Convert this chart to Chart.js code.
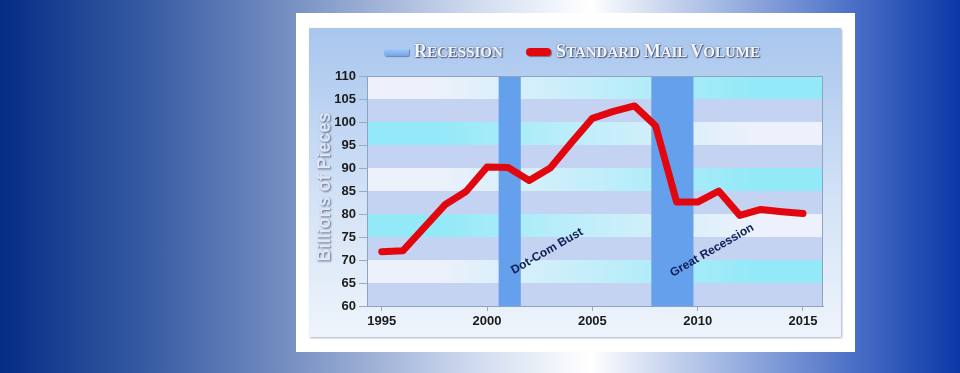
<!DOCTYPE html>
<html lang="en">
<head>
<meta charset="UTF-8">
<title>Standard Mail Volume</title>
<script src="https://cdn.jsdelivr.net/npm/chart.js"></script>
<style>
  html, body { margin: 0; padding: 0; }
  body {
    width: 960px; height: 373px; overflow: hidden; position: relative;
    background: linear-gradient(to right, #042c85 0%, #3a5ea4 16%, #7a92c4 31%, #d2ddf0 50%, #ffffff 61.5%, #a3b8e3 75%, #4a6fc6 89%, #0a38a6 100%);
    font-family: Arial, sans-serif;
  }
  .card { position: absolute; left: 296px; top: 13px; width: 559px; height: 339px; background: #fff; }
  .panel {
    position: absolute; left: 13px; top: 15px; width: 532px; height: 309px;
    background: linear-gradient(#a8c6ee, #d3e2f6 55%, #eef4fb);
    box-shadow: 1px 1px 2px rgba(60, 80, 110, 0.45);
  }
  .panel canvas { position: absolute; left: 0; top: 0; }
  .sw { position: absolute; top: 20px; width: 25px; height: 8px; border-radius: 2px; }
  .sw.rec { left: 75px; background: linear-gradient(#a9cdf7, #6fa6ea); box-shadow: 1px 1px 1px rgba(40,60,100,0.5); }
  .sw.mail { left: 217px; background: #e2070f; border-radius: 4px; box-shadow: 1px 1px 1px rgba(80,20,20,0.5); }
  .lg {
    position: absolute; top: 13px; font-family: "Liberation Serif", "DejaVu Serif", serif; font-weight: bold;
    color: #f3f5fb; text-shadow: 1px 1px 1px #46536e, 0 0 2px #6a7894; white-space: nowrap; line-height: 20px;
  }
  .lg b { font-size: 18px; }
  .lg span { font-size: 15px; }
</style>
</head>
<body>
<div class="card">
  <div class="panel">
    <canvas id="mailChart" width="532" height="309"></canvas>
    <div class="sw rec"></div>
    <div class="lg" style="left:105px"><b>R</b><span>ECESSION</span></div>
    <div class="sw mail"></div>
    <div class="lg" style="left:247px"><b>S</b><span>TANDARD </span><b>M</b><span>AIL </span><b>V</b><span>OLUME</span></div>
  </div>
</div>
<script>
  // fiscal years and volume in billions of pieces
  const years = [1995, 1996, 1997, 1998, 1999, 2000, 2001, 2002, 2003, 2004, 2005,
                 2006, 2007, 2008, 2009, 2010, 2011, 2012, 2013, 2014, 2015];
  const mailVolume = [71.8, 72.0, 77.0, 82.0, 84.9, 90.2, 90.1, 87.3, 90.0, 95.5, 100.8,
                      102.3, 103.5, 99.2, 82.6, 82.6, 85.0, 79.7, 81.0, 80.5, 80.1];

  const xTickYears = [1995, 2000, 2005, 2010, 2015];

  const recessionStart = [2000.55, 2007.8];
  const recessionEnd = [2001.6, 2009.8];

  const noteText = ['Dot-Com Bust', 'Great Recession'];
  const noteX = [2002.85, 2010.68];
  const noteY = [71.9, 72.1];

  const yTitle = 'Billions of Pieces';

  const backdrop = {
    id: 'backdrop',
    beforeDatasetsDraw(chart) {
      const { ctx, chartArea: a, scales: { x, y } } = chart;
      const edges = y.ticks.map(t => t.value);
      ctx.save();
      for (let i = 0; i < edges.length - 1; i++) {
        const top = y.getPixelForValue(edges[i + 1]);
        const bot = y.getPixelForValue(edges[i]);
        let fill = '#c3d3f1';
        if (i % 2 === 1) {
          const g = ctx.createLinearGradient(a.left, 0, a.right, 0);
          const c1 = i % 4 === 1 ? '#edf1fb' : '#93e9f8';
          const c2 = i % 4 === 1 ? '#93e9f8' : '#edf1fb';
          g.addColorStop(0.15, c1);
          g.addColorStop(0.5, '#c2eefa');
          g.addColorStop(0.85, c2);
          fill = g;
        }
        ctx.fillStyle = fill;
        ctx.fillRect(a.left, top, a.right - a.left, bot - top);
      }
      ctx.fillStyle = '#64a0ec';
      recessionStart.forEach((s, i) => {
        const x0 = x.getPixelForValue(s);
        const x1 = x.getPixelForValue(recessionEnd[i]);
        ctx.fillRect(x0, a.top, x1 - x0, a.bottom - a.top);
      });
      ctx.restore();
    },
    afterDatasetsDraw(chart) {
      const { ctx, chartArea: a, scales: { x, y } } = chart;
      ctx.save();
      ctx.strokeStyle = '#8ea2c2';
      ctx.lineWidth = 1;
      ctx.strokeRect(a.left + 0.5, a.top + 0.5, a.right - a.left - 1, a.bottom - a.top);
      ctx.fillStyle = '#0f1f55';
      ctx.font = 'bold 12px Arial';
      ctx.textAlign = 'center';
      ctx.textBaseline = 'middle';
      noteText.forEach((t, i) => {
        ctx.save();
        ctx.translate(x.getPixelForValue(noteX[i]), y.getPixelForValue(noteY[i]));
        ctx.rotate(-Math.PI / 6);
        ctx.fillText(t, 0, 0);
        ctx.restore();
      });
      // axis title with a soft shadow like the original
      ctx.save();
      ctx.translate(y.left + 11, (a.top + a.bottom) / 2 - 4);
      ctx.rotate(-Math.PI / 2);
      ctx.font = 'bold 18px Arial';
      ctx.shadowColor = 'rgba(55, 65, 95, 0.75)';
      ctx.shadowOffsetX = 1;
      ctx.shadowOffsetY = 1;
      ctx.shadowBlur = 2;
      ctx.fillStyle = '#dfe7f6';
      ctx.fillText(yTitle, 0, 0);
      ctx.restore();
      ctx.restore();
    }
  };

  new Chart(document.getElementById('mailChart'), {
    type: 'line',
    data: {
      datasets: [{
        label: 'Standard Mail Volume',
        data: years.map((yr, i) => ({ x: yr, y: mailVolume[i] })),
        borderColor: '#e2070f',
        borderWidth: 7,
        borderJoinStyle: 'round',
        borderCapStyle: 'round',
        pointRadius: 0,
        tension: 0,
        fill: false
      }]
    },
    options: {
      responsive: false,
      animation: false,
      layout: { padding: { top: 48, right: 18, bottom: 8, left: 5 } },
      plugins: { legend: { display: false }, tooltip: { enabled: false } },
      scales: {
        x: {
          type: 'linear',
          min: 1994.3,
          max: 2015.95,
          afterBuildTicks: s => { s.ticks = xTickYears.map(v => ({ value: v })); },
          afterFit: s => { s.height = 23; },
          grid: { drawOnChartArea: false, tickLength: 5, color: '#9aa9c4' },
          border: { color: '#8ea2c2' },
          ticks: {
            padding: 3,
            maxRotation: 0,
            color: '#1b1b1b',
            font: { family: 'Arial', size: 13, weight: 'bold' },
            callback: v => String(v)
          }
        },
        y: {
          min: 60,
          max: 110,
          afterFit: s => { s.width = 53; },
          grid: { drawOnChartArea: false, tickLength: 8, color: '#9aa9c4' },
          border: { color: '#8ea2c2' },
          ticks: {
            stepSize: 5,
            padding: 3,
            color: '#1b1b1b',
            font: { family: 'Arial', size: 13, weight: 'bold' }
          }
        }
      }
    },
    plugins: [backdrop]
  });
</script>
</body>
</html>
